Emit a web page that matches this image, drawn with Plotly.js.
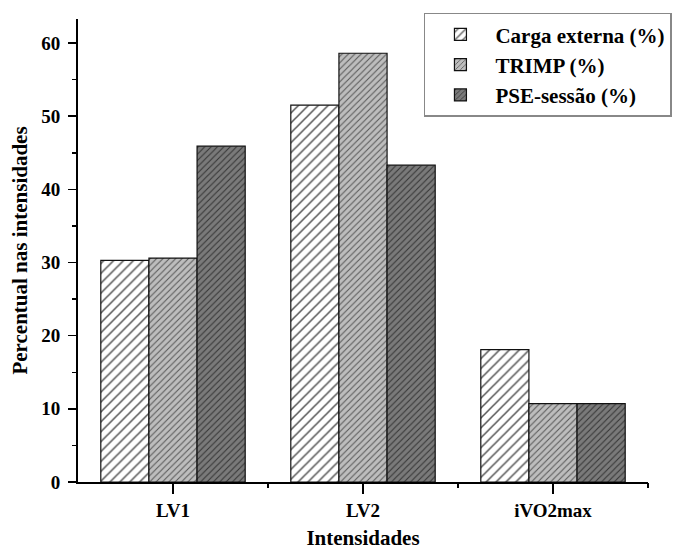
<!DOCTYPE html>
<html>
<head>
<meta charset="utf-8">
<script src="https://cdn.plot.ly/plotly-3.0.1.min.js"></script>
<style>html,body{margin:0;padding:0;background:#fff;}#chart{width:675px;height:550px;}</style>
</head>
<body>
<div id="chart"></div>
<script>
const categories = ["LV1", "LV2", "iVO2max"];
const seriesNames = ["Carga externa (%)", "TRIMP (%)", "PSE-sessão (%)"];
const cargaExterna = [30.3, 51.5, 18.1];
const trimp = [30.6, 58.6, 10.7];
const pseSessao = [45.9, 43.3, 10.7];
const yTickVals = [0, 10, 20, 30, 40, 50, 60];
const boundaryTicks = [0.5, 1.5, 2.5];

const FONT = "Liberation Serif, Times New Roman, serif";

function barTrace(name, values, bg, fg, size) {
  return {
    type: "bar",
    name: name,
    x: categories,
    y: values,
    marker: {
      color: bg,
      line: {color: "#111", width: 1.2},
      pattern: {shape: "/", size: size, solidity: 0.22, fgcolor: fg, bgcolor: bg, fillmode: "replace"}
    },
    hoverinfo: "skip"
  };
}

const data = [
  barTrace(seriesNames[0], cargaExterna, "#ffffff", "#555555", 7),
  barTrace(seriesNames[1], trimp, "#bdbdbd", "#555555", 4.5),
  barTrace(seriesNames[2], pseSessao, "#7a7a7a", "#333333", 4.5),
  {type: "scatter", x: [], y: [], xaxis: "x2", yaxis: "y", showlegend: false, hoverinfo: "skip"}
];

const layout = {
  width: 675,
  height: 550,
  margin: {l: 78, r: 27, t: 19, b: 68, autoexpand: false},
  paper_bgcolor: "#ffffff",
  plot_bgcolor: "#ffffff",
  barmode: "group",
  bargap: 0.24,
  bargroupgap: 0,
  font: {family: FONT, color: "#000"},
  xaxis: {
    type: "category",
    range: [-0.5, 2.5],
    showline: true, linecolor: "#000", linewidth: 2,
    ticks: "outside", ticklen: 10, tickwidth: 1.5, tickcolor: "#000",
    tickfont: {family: FONT, size: 19, weight: "bold", color: "#000"},
    showgrid: false, zeroline: false,
    title: {text: "<b>Intensidades</b>", font: {family: FONT, size: 21, color: "#000"}, standoff: 18}
  },
  xaxis2: {
    overlaying: "x", anchor: "y", side: "bottom",
    range: [-0.5, 2.5],
    tickmode: "array", tickvals: boundaryTicks,
    ticks: "outside", ticklen: 5, tickwidth: 1.5, tickcolor: "#000",
    showticklabels: false, showline: false, showgrid: false, zeroline: false
  },
  yaxis: {
    range: [0, 63.28],
    tickmode: "array", tickvals: yTickVals,
    showline: true, linecolor: "#000", linewidth: 2,
    ticks: "outside", ticklen: 8, tickwidth: 1.5, tickcolor: "#000",
    minor: {dtick: 5, tick0: 0, ticks: "outside", ticklen: 4, tickwidth: 1.5, tickcolor: "#000"},
    tickfont: {family: FONT, size: 19, weight: "bold", color: "#000"},
    ticklabelstandoff: 4,
    showgrid: false, zeroline: false,
    title: {text: "<b>Percentual nas intensidades</b>", font: {family: FONT, size: 21, color: "#000"}, standoff: 8}
  },
  legend: {
    x: 1.042, y: 1.0136, xanchor: "right", yanchor: "top",
    bgcolor: "#ffffff", bordercolor: "#888888", borderwidth: 1.5,
    font: {family: FONT, size: 21, weight: "bold", color: "#000"},
    itemwidth: 60,
    tracegroupgap: 0
  },
  showlegend: true
};

Plotly.newPlot("chart", data, layout, {displayModeBar: false, staticPlot: true});
</script>
</body>
</html>
